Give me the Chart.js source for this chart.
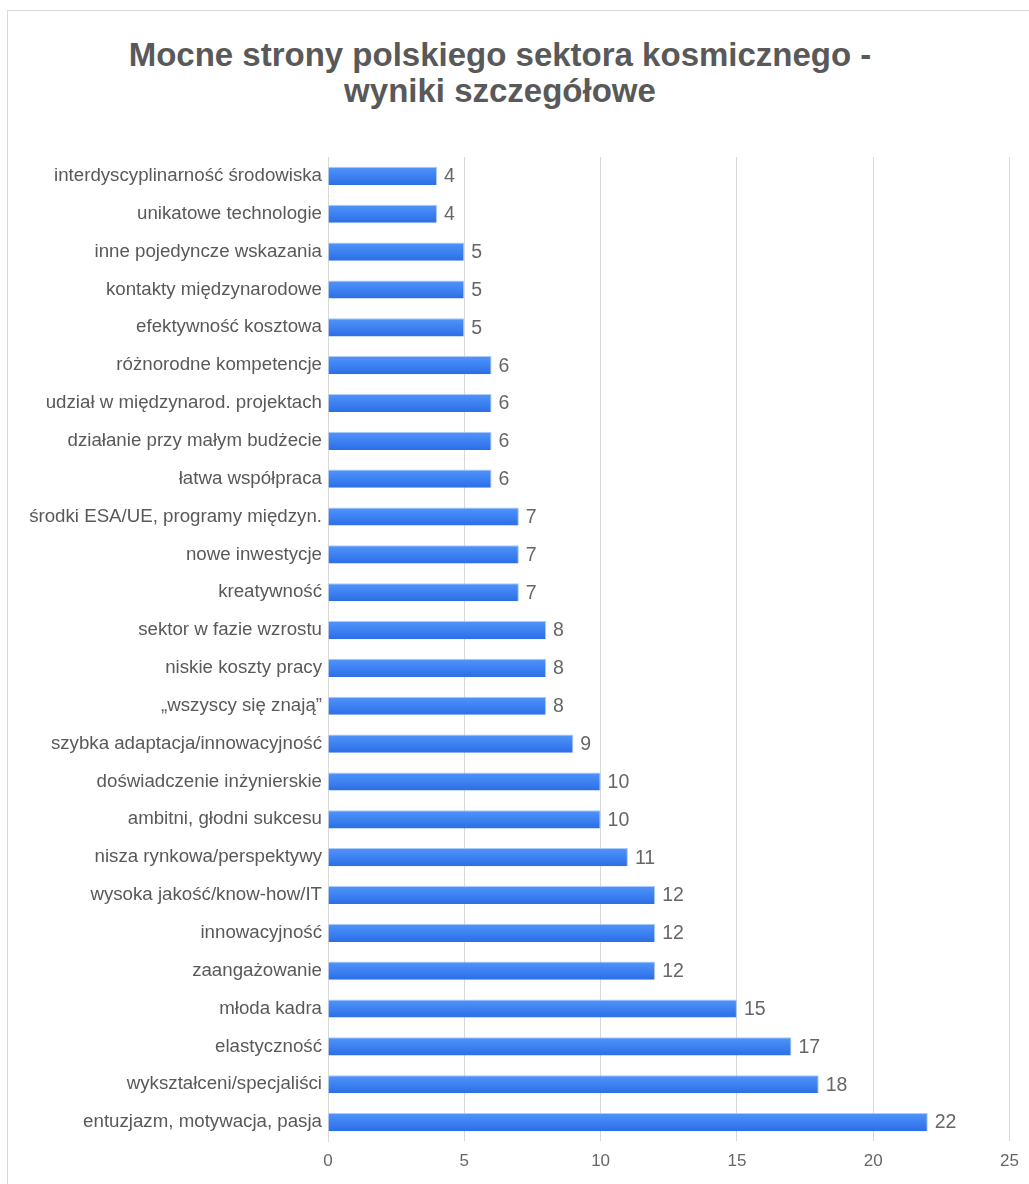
<!DOCTYPE html>
<html>
<head>
<meta charset="utf-8">
<script src="https://cdn.jsdelivr.net/npm/chart.js@4/dist/chart.umd.min.js"></script>
<style>
  html, body { margin: 0; padding: 0; background: #fff; }
  #wrap { position: relative; width: 1029px; height: 1184px; overflow: hidden; }
  #frame {
    position: absolute; left: 7px; top: 10px; width: 1100px; height: 1300px;
    border-top: 1px solid #d9d9d9; border-left: 1px solid #d9d9d9;
  }
  #title {
    position: absolute; left: 0; top: 37px; width: 1000px; text-align: center;
    font-family: "Liberation Sans", Arial, sans-serif; font-weight: bold;
    font-size: 33px; line-height: 36px; color: #595959;
  }
  canvas { position: absolute; left: 0; top: 0; }
</style>
</head>
<body>
<div id="wrap">
  <div id="frame"></div>
  <div id="title">Mocne strony polskiego sektora kosmicznego -<br>wyniki szczegółowe</div>
  <canvas id="chart" width="1029" height="1184"></canvas>
</div>
<script>
// categories, top to bottom
const categories = [
    "interdyscyplinarność środowiska",
    "unikatowe technologie",
    "inne pojedyncze wskazania",
    "kontakty międzynarodowe",
    "efektywność kosztowa",
    "różnorodne kompetencje",
    "udział w międzynarod. projektach",
    "działanie przy małym budżecie",
    "łatwa współpraca",
    "środki ESA/UE, programy międzyn.",
    "nowe inwestycje",
    "kreatywność",
    "sektor w fazie wzrostu",
    "niskie koszty pracy",
    "„wszyscy się znają”",
    "szybka adaptacja/innowacyjność",
    "doświadczenie inżynierskie",
    "ambitni, głodni sukcesu",
    "nisza rynkowa/perspektywy",
    "wysoka jakość/know-how/IT",
    "innowacyjność",
    "zaangażowanie",
    "młoda kadra",
    "elastyczność",
    "wykształceni/specjaliści",
    "entuzjazm, motywacja, pasja",
];

const counts = [4, 4, 5, 5, 5, 6, 6, 6, 6, 7, 7, 7, 8, 8, 8, 9, 10, 10, 11, 12, 12, 12, 15, 17, 18, 22];

const xTicks = [0, 5, 10, 15, 20, 25];

const FONT = "'Liberation Sans', Arial, sans-serif";
const TEXT_COLOR = "#595959";

// value labels at the end of each bar
const valueLabels = {
    id: "valueLabels",
    afterDatasetsDraw(chart) {
        const ctx = chart.ctx;
        const meta = chart.getDatasetMeta(0);
        ctx.save();
        ctx.font = "19.5px " + FONT;
        ctx.fillStyle = "#666666";
        ctx.textAlign = "left";
        ctx.textBaseline = "middle";
        meta.data.forEach((bar, i) => {
            ctx.fillText(String(counts[i]), bar.x + 7, bar.y + 1);
        });
        ctx.restore();
    },
};

// vertical shading on each bar, lighter at the top
function barGradient(context) {
    const chart = context.chart;
    const yScale = chart.scales.y;
    if (!yScale || context.dataIndex === undefined) return "#3d82f2";
    const cy = yScale.getPixelForValue(context.dataIndex);
    if (!isFinite(cy)) return "#3d82f2";
    const g = chart.ctx.createLinearGradient(0, cy - 9, 0, cy + 9);
    g.addColorStop(0, "#5394fa");
    g.addColorStop(0.5, "#3d82f2");
    g.addColorStop(1, "#2c6ee6");
    return g;
}

new Chart(document.getElementById("chart"), {
    type: "bar",
    data: {
        labels: categories,
        datasets: [
            {
                data: counts,
                backgroundColor: barGradient,
                borderColor: "rgba(150, 190, 250, 0.8)",
                borderWidth: { top: 1, bottom: 0, left: 0, right: 1 },
                borderSkipped: "left",
                categoryPercentage: 1,
                barPercentage: 0.48,
            },
        ],
    },
    options: {
        indexAxis: "y",
        responsive: false,
        animation: false,
        events: [],
        layout: { padding: { top: 157, right: 19, left: 0, bottom: 0 } },
        plugins: {
            legend: { display: false },
            title: { display: false },
            tooltip: { enabled: false },
        },
        scales: {
            x: {
                min: 0,
                max: 25,
                afterBuildTicks: (scale) => {
                    scale.ticks = xTicks.map((v) => ({ value: v }));
                },
                afterFit: (scale) => { scale.height = 43; },
                ticks: { color: "#666666", font: { family: FONT, size: 17 }, padding: 10 },
                grid: { color: "#d9d9d9", lineWidth: 1, drawTicks: false },
                border: { display: false },
            },
            y: {
                afterFit: (scale) => { scale.width = 328; },
                ticks: { color: TEXT_COLOR, font: { family: FONT, size: 18.7 }, padding: 6, autoSkip: false },
                grid: { display: false, drawTicks: false },
                border: { display: true, color: "#d9d9d9", width: 1 },
            },
        },
    },
    plugins: [valueLabels],
});
</script>
</body>
</html>
